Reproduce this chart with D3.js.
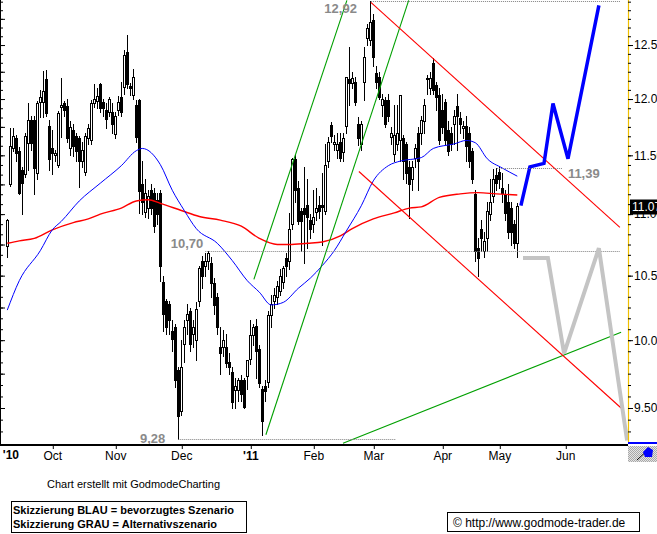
<!DOCTYPE html>
<html><head><meta charset="utf-8">
<script src="https://cdn.jsdelivr.net/npm/d3@7"></script>
<style>body{margin:0;background:#fff}svg{display:block;font-family:"Liberation Sans",Arial,sans-serif}</style>
</head><body><svg id="c" width="657" height="534"></svg>
<script>
// ---- data (trading-day index, prices) ----
const opens =[10.74,11.25,11.56,11.65,11.54,11.37,11.34,11.61,11.81,11.81,11.35,11.97,11.97,12.18,11.76,11.56,11.50,11.42,11.93,11.96,11.94,11.56,11.72,11.67,11.65,11.45,11.36,11.65,11.63,11.96,11.98,12.14,11.97,11.90,11.88,11.88,11.69,11.90,12.02,12.11,12.43,12.12,12.04,11.95,11.99,11.25,11.02,11.05,11.20,11.18,11.12,11.18,10.45,10.30,10.28,10.07,10.10,9.78,9.48,9.97,10.15,10.22,10.05,10.00,10.30,10.62,10.58,10.62,10.60,10.44,10.33,9.95,9.95,9.95,9.84,9.76,9.63,9.63,9.70,9.70,9.73,9.86,10.04,10.11,9.93,9.64,9.66,9.69,10.19,10.30,10.33,10.38,10.45,10.64,10.62,10.92,11.47,11.22,11.03,11.05,11.08,10.95,10.92,11.02,11.08,11.08,11.03,11.45,11.77,11.60,11.55,11.62,11.53,11.76,12.18,12.15,12.16,11.78,11.60,12.16,12.57,12.55,12.74,12.24,12.20,11.95,11.99,11.99,11.66,11.51,11.60,11.63,11.65,11.60,11.40,11.30,11.48,11.70,11.70,11.80,12.18,12.10,12.33,12.13,12.04,11.90,11.97,11.72,11.70,11.78,11.94,11.83,11.74,11.76,11.70,11.54,11.17,10.72,10.88,10.70,10.80,11.00,11.15,11.33,11.36,11.22,11.17,11.10,11.05,10.92,10.76];
const highs =[10.96,11.74,11.74,11.68,11.57,11.40,11.70,11.96,11.85,11.85,11.98,12.08,12.26,12.27,11.81,11.72,11.55,11.89,12.19,11.98,12.00,11.80,11.78,11.70,11.67,11.62,11.70,11.78,11.99,12.14,12.10,12.15,12.00,11.96,12.02,11.96,11.88,12.03,12.16,12.45,12.60,12.15,12.28,11.99,12.00,11.45,11.30,11.20,11.25,11.22,11.18,11.20,10.50,10.32,10.30,10.15,10.12,9.80,10.00,10.15,10.28,10.25,10.15,10.29,10.58,10.66,10.68,10.70,10.65,10.48,10.36,10.10,10.08,10.05,9.90,9.80,9.72,9.72,9.74,9.72,9.85,10.15,10.12,10.16,9.96,9.66,9.70,10.22,10.35,10.40,10.46,10.55,10.58,10.68,11.01,11.48,11.50,11.28,11.05,11.40,11.30,11.00,11.20,11.22,11.15,11.35,11.60,11.66,11.79,11.68,11.70,11.70,11.70,12.20,12.48,12.25,12.20,11.84,11.80,12.48,12.70,12.92,12.80,12.30,12.25,12.05,12.02,12.05,11.75,11.95,11.95,12.04,11.68,11.62,11.45,11.45,11.60,11.75,11.85,12.00,12.22,12.25,12.38,12.16,12.10,12.05,12.00,11.80,11.75,11.90,12.05,11.88,11.80,11.85,11.75,11.56,11.20,10.80,10.95,10.85,11.10,11.30,11.38,11.39,11.40,11.35,11.20,11.25,11.10,10.95,11.09];
const lows  =[10.65,11.24,11.54,11.45,11.17,11.00,11.31,11.37,11.55,11.17,11.30,11.84,11.84,11.85,11.37,11.34,11.45,11.40,11.66,11.85,11.62,11.50,11.49,11.45,11.23,11.40,11.33,11.60,11.60,11.93,11.92,11.88,11.85,11.74,11.85,11.70,11.65,11.86,11.85,12.05,12.10,12.04,12.00,11.62,11.01,11.00,10.98,10.97,11.00,10.85,10.92,10.46,10.07,10.05,10.05,9.92,9.65,9.28,9.45,9.84,10.05,9.92,9.95,9.85,10.26,10.40,10.50,10.55,10.33,10.20,10.05,9.75,9.88,9.80,9.75,9.50,9.50,9.55,9.55,9.50,9.64,9.82,9.96,9.72,9.65,9.31,9.55,9.65,10.10,10.25,10.28,10.35,10.40,10.50,10.55,10.88,11.10,10.92,10.70,10.60,10.72,10.80,10.85,10.95,10.97,10.75,11.00,11.40,11.62,11.55,11.48,11.45,11.45,11.70,11.95,12.10,11.95,11.59,11.55,11.99,12.50,12.50,12.30,12.10,12.00,11.85,11.75,11.80,11.60,11.45,11.55,11.45,11.30,11.26,10.97,11.20,11.40,11.20,11.60,11.70,12.05,12.05,12.05,11.90,11.60,11.70,11.60,11.50,11.55,11.60,11.55,11.70,11.65,11.45,11.40,11.26,10.62,10.50,10.70,10.65,10.70,10.95,11.10,11.20,11.22,11.10,10.95,10.80,10.75,10.72,10.65];
const closes=[10.95,11.58,11.67,11.52,11.18,11.26,11.67,11.81,11.61,11.39,11.96,12.02,12.07,11.87,11.47,11.52,11.52,11.87,11.95,11.90,11.65,11.75,11.58,11.54,11.45,11.55,11.67,11.74,11.96,12.00,12.03,11.92,11.92,11.82,12.00,11.78,11.85,11.97,11.88,12.41,12.14,12.10,12.20,11.66,11.19,11.10,11.18,11.15,11.05,10.90,11.00,10.58,10.20,10.10,10.15,10.01,9.70,9.44,9.80,10.10,10.20,9.97,10.10,10.24,10.56,10.50,10.62,10.68,10.44,10.27,10.10,9.90,10.00,9.83,9.80,9.54,9.66,9.70,9.60,9.51,9.85,10.04,10.10,9.92,9.68,9.41,9.62,10.19,10.28,10.35,10.42,10.50,10.56,10.58,10.88,11.47,11.20,10.94,10.94,11.00,10.98,10.88,10.98,11.05,11.03,11.06,11.42,11.62,11.67,11.62,11.60,11.48,11.65,12.20,12.15,12.19,11.97,11.65,11.78,12.39,12.66,12.72,12.39,12.16,12.02,12.00,11.78,11.85,11.70,11.68,11.70,12.04,11.45,11.35,11.25,11.40,11.56,11.45,11.81,11.95,12.19,12.19,12.08,12.02,11.63,11.75,11.63,11.54,11.60,11.85,11.85,11.78,11.76,11.58,11.45,11.30,10.70,10.64,10.80,10.78,11.03,11.10,11.30,11.26,11.30,11.18,11.01,10.85,10.85,10.76,11.07];

const blueMAIdx=[0,4,11,15,18,24,31,38,43,45,51,55,59,63,70,75,80,84,88,92,97,101,105,109,113,118,122,127,131,138,142,149,153,156,160,165,170];
const blueMAVal=[10.23,10.46,10.70,10.87,10.94,11.11,11.26,11.41,11.54,11.56,11.42,11.20,11.03,10.88,10.76,10.62,10.46,10.37,10.27,10.29,10.40,10.48,10.58,10.70,10.86,11.07,11.28,11.41,11.45,11.48,11.56,11.60,11.63,11.61,11.47,11.39,11.32];
const redMAIdx=[0,4,9,15,22,27,31,38,43,47,51,58,64,71,78,84,90,94,100,105,111,115,122,129,134,138,144,151,157,163,170];
const redMAVal=[10.76,10.78,10.80,10.87,10.93,10.96,11.00,11.05,11.11,11.12,11.09,11.03,10.98,10.95,10.90,10.80,10.75,10.75,10.76,10.77,10.82,10.88,10.96,11.01,11.05,11.06,11.14,11.17,11.18,11.17,11.16];

// trend lines: [idx1, price1, idx2, price2]
const greenLines=[[82.2,10.47,113.2,12.93],[86.2,9.31,133.8,12.93],[111.9,9.25,204.6,10.06]];
const redLines=[[121.2,12.91,204.2,10.89],[117.2,11.36,204.6,9.50]];

// marked levels
const levelValues=[12.92,10.70,9.28,11.39];
const levelFrom=[121.2,66,57,163.2];
const levelTo=[204.2,204.2,129.6,185.2];
const levelLabels=["12,92","10,70","9,28","11,39"];

// scenario sketches
const blueScenIdx=[171.2,174.2,178.9,181.9,186.9,197.2];
const blueScenVal=[11.07,11.40,11.43,11.96,11.47,12.88];
const grayScenIdx=[171.9,180.2,185.6,197.2,206.6];
const grayScenVal=[10.64,10.64,9.90,10.72,9.27];

const monthIdx=[15,36,58,81,102,122,145,164,186];
const monthLabels=["Oct","Nov","Dec","'11","Feb","Mar","Apr","May","Jun"];
const yearStartLabel="'10";
const yTickValues=[9.5,10,10.5,11,11.5,12,12.5];
const lastPrice=11.07;

// ---- drawing ----
const svg=d3.select("#c");
const W=627,H=444;
const x=d3.scaleLinear().domain([-2.43,206.57]).range([0,W]);
const y=d3.scaleLog().domain([9.245,12.933]).range([H,0]);

svg.append("defs").append("clipPath").attr("id","clip").append("rect").attr("x",0).attr("y",0).attr("width",W).attr("height",H);
const checker=svg.select("defs").append("pattern").attr("id","chk").attr("width",2).attr("height",2).attr("patternUnits","userSpaceOnUse");
checker.append("rect").attr("width",2).attr("height",2).attr("fill","#e4e4e4");
checker.append("rect").attr("width",1).attr("height",1).attr("fill","#a8a8a8");
checker.append("rect").attr("x",1).attr("y",1).attr("width",1).attr("height",1).attr("fill","#a8a8a8");

const plot=svg.append("g").attr("clip-path","url(#clip)");

// candles
const data=opens.map((o,i)=>({i,o,h:highs[i],l:lows[i],c:closes[i]}));
const cg=plot.append("g");
data.forEach(d=>{
  const cx=Math.round(x(d.i));
  cg.append("line").attr("x1",cx+0.5).attr("x2",cx+0.5)
    .attr("y1",Math.round(y(d.h))).attr("y2",Math.round(y(d.l))+1)
    .attr("stroke","#000").attr("stroke-width",1);
  const top=Math.round(y(Math.max(d.o,d.c))), bot=Math.round(y(Math.min(d.o,d.c)));
  if(d.c<d.o){
    cg.append("rect").attr("x",cx-1).attr("y",top).attr("width",3).attr("height",Math.max(1,bot-top+1)).attr("fill","#000");
  } else {
    cg.append("rect").attr("x",cx-0.5).attr("y",top+0.5).attr("width",2).attr("height",Math.max(1,bot-top)).attr("fill","#fff").attr("stroke","#000").attr("stroke-width",1);
  }
});

// moving averages
const ml=d3.line().x(d=>x(d[0])).y(d=>y(d[1])).curve(d3.curveMonotoneX);
plot.append("path").attr("d",ml(redMAIdx.map((k,j)=>[k,redMAVal[j]]))).attr("fill","none").attr("stroke","#ff0000").attr("stroke-width",1.4);
plot.append("path").attr("d",ml(blueMAIdx.map((k,j)=>[k,blueMAVal[j]]))).attr("fill","none").attr("stroke","#0000ff").attr("stroke-width",1);

// trend lines
greenLines.forEach(l=>plot.append("line").attr("x1",x(l[0])).attr("y1",y(l[1])).attr("x2",x(l[2])).attr("y2",y(l[3])).attr("stroke","#00a000").attr("stroke-width",1.1));
redLines.forEach(l=>plot.append("line").attr("x1",x(l[0])).attr("y1",y(l[1])).attr("x2",x(l[2])).attr("y2",y(l[3])).attr("stroke","#ff0000").attr("stroke-width",1.1));

// levels
const lblFmt=[
  {dx:-14,dy:12,anchor:"end"},
  {dx:-2,dy:-3,anchor:"end"},
  {dx:-13,dy:4,anchor:"end"},
  {dx:5,dy:10,anchor:"start"}];
levelValues.forEach((v,k)=>{
  const yy=Math.round(y(v))+0.5;
  svg.append("line").attr("x1",x(levelFrom[k])).attr("x2",x(levelTo[k])).attr("y1",yy).attr("y2",yy)
    .attr("stroke","#808080").attr("stroke-width",1).attr("stroke-dasharray","1,1");
  const f=lblFmt[k];
  const lx = f.anchor==="end"? x(levelFrom[k])+f.dx : x(levelTo[k])+f.dx;
  svg.append("text").attr("x",lx).attr("y",y(v)+f.dy).attr("text-anchor",f.anchor)
    .attr("font-size",13).attr("font-weight","bold").attr("fill","#8a8a8a").text(levelLabels[k]);
});

// scenarios
const sl=d3.line().x(d=>x(d[0])).y(d=>y(d[1]));
svg.append("path").attr("d",sl(grayScenIdx.map((k,j)=>[k,grayScenVal[j]]))).attr("fill","none").attr("stroke","#c4c4c4").attr("stroke-width",4).attr("stroke-linejoin","miter");
plot.append("path").attr("d",sl(blueScenIdx.map((k,j)=>[k,blueScenVal[j]]))).attr("fill","none").attr("stroke","#0000ff").attr("stroke-width",3.5).attr("stroke-linejoin","miter");

// left edge line + ticks
svg.append("line").attr("x1",0.5).attr("x2",0.5).attr("y1",0).attr("y2",H).attr("stroke","#000");
const minorVals=d3.range(112,156).map(k=>k/12).filter(v=>v>9.25&&v<12.93);
const quarterVals=d3.range(37,52).map(k=>k/4).filter(v=>v>9.25&&v<12.93);
svg.append("g").call(d3.axisRight(y).tickValues(minorVals).tickSize(3).tickFormat("")).call(g=>g.select(".domain").remove());
svg.append("g").call(d3.axisRight(y).tickValues(quarterVals).tickSize(5).tickFormat("")).call(g=>g.select(".domain").remove());

// right axis
const ra=svg.append("g").attr("transform",`translate(${W+1},0)`);
ra.append("line").attr("x1",0.5).attr("x2",0.5).attr("y1",0).attr("y2",H-2).attr("stroke","#f0c000").attr("stroke-width",1.2);
ra.append("g").call(d3.axisRight(y).tickValues(minorVals).tickSize(3).tickFormat("")).call(g=>g.select(".domain").remove());
ra.append("g").call(d3.axisRight(y).tickValues(yTickValues).tickSize(5).tickPadding(1).tickFormat(d3.format(".2f")))
  .call(g=>g.select(".domain").remove())
  .call(g=>g.selectAll("text").attr("font-size",12).attr("font-family","Liberation Sans,Arial,sans-serif").attr("fill","#000"));
svg.selectAll(".tick line").attr("stroke","#000");
// last price box
const ly=y(lastPrice);
svg.append("rect").attr("x",630).attr("y",Math.round(ly)-6.5).attr("width",27).attr("height",15).attr("fill","#000");
svg.append("text").attr("x",632).attr("y",ly+5).attr("font-size",12).attr("fill","#fff").text(d3.format(".2f")(lastPrice));

// x axis
svg.append("rect").attr("x",0).attr("y",H).attr("width",W+1).attr("height",2).attr("fill","#000");
svg.append("rect").attr("x",W+1).attr("y",H-2).attr("width",30).attr("height",2).attr("fill","#0000ff");
const xa=svg.append("g").attr("transform",`translate(0,${H+2})`)
  .call(d3.axisBottom(x).tickValues(monthIdx).tickSize(3).tickPadding(2).tickFormat((d,k)=>monthLabels[k]));
xa.select(".domain").remove();
xa.selectAll("line").attr("stroke","#000").attr("transform","translate(0.5,0)");
xa.selectAll("text").attr("font-size",12).attr("font-family","Liberation Sans,Arial,sans-serif").attr("fill","#000")
  .attr("font-weight",(d,k)=>monthLabels[k].startsWith("'")?"bold":"normal");
svg.append("text").attr("x",x(1.2)).attr("y",459).attr("text-anchor","middle").attr("font-size",12).attr("font-weight","bold").text(yearStartLabel);

// corner icon
svg.append("rect").attr("x",628).attr("y",446).attr("width",29).attr("height",16).attr("fill","url(#chk)");
svg.append("line").attr("x1",637).attr("y1",460).attr("x2",650).attr("y2",448).attr("stroke","#000");
svg.append("path").attr("d","M643,452 L648,447 L653,450 L652,457 L645,457 Z").attr("fill","#0000ff");

// footer
svg.append("text").attr("x",47).attr("y",488).attr("font-size",11).text("Chart erstellt mit GodmodeCharting");
svg.append("rect").attr("x",11.5).attr("y",501.5).attr("width",235).attr("height",31).attr("fill","none").attr("stroke","#000");
svg.append("text").attr("x",13).attr("y",514).attr("font-size",11).attr("font-weight","bold").text("Skizzierung BLAU = bevorzugtes Szenario");
svg.append("text").attr("x",13).attr("y",528).attr("font-size",11).attr("font-weight","bold").text("Skizzierung GRAU = Alternativszenario");
svg.append("rect").attr("x",447.5).attr("y",512.5).attr("width",192).attr("height",19).attr("fill","none").attr("stroke","#000");
svg.append("text").attr("x",453).attr("y",527).attr("font-size",12).text("\u00A9 http://www.godmode-trader.de");
</script></body></html>
